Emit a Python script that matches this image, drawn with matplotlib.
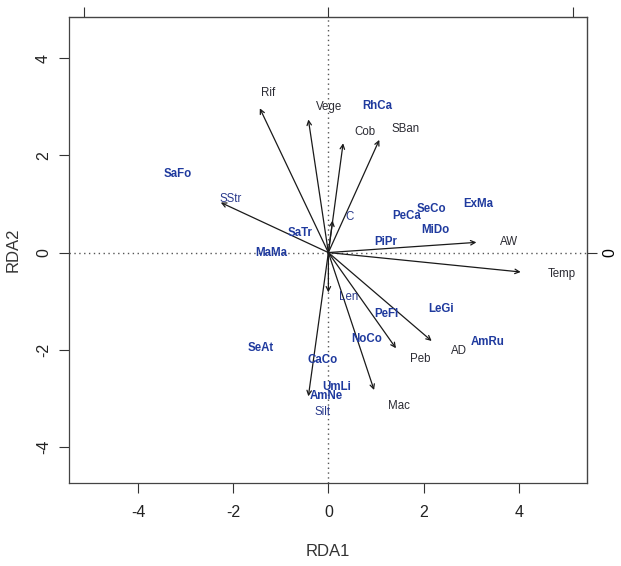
"""
RDA biplot: environmental arrows and species scores.
"""

import matplotlib.pyplot as plt

# ------------------------------------------------------------------------
# Environmental variables (arrow tips and label positions, RDA units)

env_names = ["Rif", "Vege", "Cob", "SBan", "SStr", "C", "AW", "Temp",
             "Len", "Peb", "AD", "Mac", "Silt"]
env_x = [-1.44, -0.42, 0.31, 1.07, -2.26, 0.09, 3.11, 4.04,
         0.00, 1.42, 2.17, 0.96, -0.42]
env_y = [2.97, 2.74, 2.25, 2.32, 1.03, 0.66, 0.21, -0.40,
         -0.82, -1.97, -1.82, -2.83, -2.96]
env_lab_x = [-1.26, 0.01, 0.77, 1.63, -2.05, 0.44, 3.80, 4.91,
             0.42, 1.94, 2.75, 1.48, -0.12]
env_lab_y = [3.28, 3.00, 2.48, 2.54, 1.10, 0.74, 0.21, -0.44,
             -0.92, -2.19, -2.02, -3.16, -3.29]

# Species scores
sp_names = ["RhCa", "SaFo", "SaTr", "MaMa", "PeCa", "SeCo", "MiDo", "PiPr",
            "ExMa", "PeFl", "LeGi", "NoCo", "SeAt", "CaCo", "AmRu", "UmLi",
            "AmNe"]
sp_x = [1.03, -3.16, -0.60, -1.21, 1.64, 2.17, 2.25, 1.20,
        3.15, 1.22, 2.36, 0.80, -1.42, -0.13, 3.35, 0.17, -0.05]
sp_y = [3.02, 1.62, 0.40, -0.01, 0.76, 0.89, 0.47, 0.21,
        1.00, -1.26, -1.16, -1.78, -1.97, -2.21, -1.84, -2.76, -2.95]

x_ticks = [-4, -2, 0, 2, 4]
y_ticks = [-4, -2, 0, 2, 4]

# ------------------------------------------------------------------------

plt.rcParams['font.family'] = ['Liberation Sans', 'DejaVu Sans']

SP_COL = '#1f3a9e'
ENV_COL = '#2b2b33'
ENV_BLUE = {"SStr", "C", "Len", "Silt"}  # these print bluish in the source
SCALE = 5.13  # species axis multiplier (top/right axes)

fig = plt.figure(figsize=(6.21, 5.66), dpi=100)
ax = fig.add_axes([0.111, 0.147, 0.834, 0.823])

ax.axhline(0, color='#555555', lw=1, ls=(0, (1, 2.5)), zorder=1)
ax.axvline(0, color='#555555', lw=1, ls=(0, (1, 2.5)), zorder=1)

for name, x, y, lx, ly in zip(env_names, env_x, env_y, env_lab_x, env_lab_y):
    ax.annotate('', xy=(x, y), xytext=(0, 0),
                arrowprops=dict(arrowstyle='->', lw=0.9, color='#1a1a1a',
                                shrinkA=0, shrinkB=0, mutation_scale=8),
                zorder=2)
    col = '#2a3a8c' if name in ENV_BLUE else ENV_COL
    ax.text(lx, ly, name, color=col, fontsize=8.3, ha='center', va='center',
            zorder=3)

for name, x, y in zip(sp_names, sp_x, sp_y):
    ax.text(x, y, name, color=SP_COL, fontsize=8.3, fontweight='bold',
            ha='center', va='center', zorder=3)

ax.set_xlim(-5.45, 5.43)
ax.set_ylim(-4.74, 4.85)
ax.set_xticks(x_ticks)
ax.set_yticks(y_ticks)
ax.set_xticklabels([str(t) for t in x_ticks])
ax.set_yticklabels([str(t) for t in y_ticks], rotation=90, va='center')
ax.tick_params(length=7, width=0.8, labelsize=11.5, color='#333333')
ax.tick_params(axis='x', pad=9)
ax.tick_params(axis='y', pad=6)
ax.set_xlabel('RDA1', fontsize=12, labelpad=17, color='#333333')
ax.set_ylabel('RDA2', fontsize=12, labelpad=11, color='#333333')
for t in ax.get_xticklabels() + ax.get_yticklabels():
    t.set_color('#222222')
for s in ax.spines.values():
    s.set_linewidth(0.9)
    s.set_color('#444444')

top = ax.secondary_xaxis('top', functions=(lambda v: v / SCALE,
                                           lambda v: v * SCALE))
top.set_xticks([-1, 0, 1])
top.set_xticklabels(['', '', ''])
top.tick_params(length=7, width=0.8, color='#333333')

right = ax.secondary_yaxis('right', functions=(lambda v: v / SCALE,
                                               lambda v: v * SCALE))
right.set_yticks([0])
right.set_yticklabels(['0'], rotation=90, va='center')
right.tick_params(length=7, width=0.8, pad=4, labelsize=11.5, color='#333333')

fig.savefig('out.png', dpi=100)
